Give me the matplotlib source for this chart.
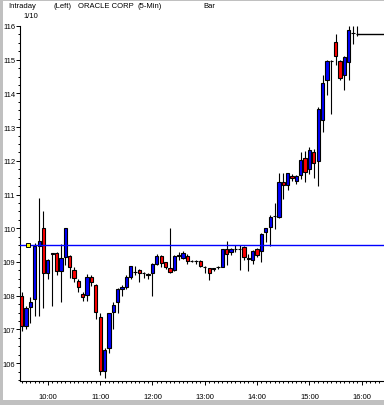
import numpy as np
import matplotlib
matplotlib.use("Agg")
import matplotlib.pyplot as plt
from matplotlib.patches import Rectangle
from matplotlib.ticker import MultipleLocator, FixedLocator

# 5-min bars, 9:30 .. 15:55
opens = [108.0, 107.1, 107.66, 107.9, 109.48, 110.0, 108.66, 109.25, 109.26, 108.74,
         109.14, 109.19, 108.77, 108.43, 108.05, 108.02, 108.55, 108.32, 107.36, 105.76,
         106.44, 107.51, 107.82, 108.2, 108.25, 108.55, 108.7, 108.76, 108.66, 108.62,
         108.66, 108.94, 109.19, 108.99, 108.81, 108.77, 109.19, 109.13, 109.19, 109.04,
         109.03, 109.04, 108.86, 108.81, 108.8, 108.85, 108.86, 109.39, 109.29, 109.39,
         109.39, 109.44, 109.1, 109.07, 109.39, 109.34, 109.9, 110.03, 110.35, 110.34,
         111.38, 111.28, 111.56, 111.41, 111.59, 112.08, 111.75, 112.25, 112.0, 113.2,
         114.39, 114.95, 115.53, 114.95, 114.55, 114.92, 115.8, 115.75]
highs = [108.12, 107.7, 107.95, 109.55, 110.9, 110.5, 109.1, 109.28, 109.3, 109.53,
         110.0, 109.2, 108.85, 108.5, 108.1, 108.64, 108.62, 108.35, 107.5, 106.45,
         107.5, 107.8, 108.22, 108.32, 108.6, 108.88, 108.87, 108.8, 108.7, 108.68,
         108.96, 109.25, 109.22, 109.0, 110.01, 109.22, 109.3, 109.32, 109.25, 109.06,
         109.06, 109.05, 108.88, 108.83, 108.83, 108.88, 109.4, 109.63, 109.42, 109.5,
         109.5, 109.46, 109.24, 109.35, 109.42, 109.85, 110.02, 110.4, 110.75, 111.63,
         111.63, 111.65, 111.6, 111.58, 112.25, 112.3, 112.4, 112.35, 113.6, 114.55,
         115.0, 115.0, 115.75, 115.0, 115.1, 116.0, 116.0, 116.0]
lows = [106.95, 107.0, 107.2, 107.4, 107.4, 107.65, 108.5, 107.7, 108.6, 107.8,
        108.9, 108.52, 108.42, 108.1, 107.85, 107.85, 108.3, 107.31, 105.66, 105.55,
        106.3, 107.0, 107.5, 108.0, 108.2, 108.5, 108.6, 108.42, 108.52, 108.5,
        108.0, 108.9, 108.85, 108.8, 108.68, 108.72, 109.05, 109.1, 108.95, 109.0,
        108.93, 108.85, 108.66, 108.47, 108.72, 108.8, 108.84, 108.9, 109.2, 109.3,
        108.77, 109.05, 108.74, 108.95, 109.15, 109.01, 109.58, 109.48, 109.98, 110.3,
        110.87, 111.14, 111.4, 111.3, 111.45, 111.38, 111.6, 111.5, 111.26, 112.85,
        113.95, 113.4, 114.83, 114.39, 114.1, 114.4, 115.46, 115.7]
closes = [107.1, 107.63, 107.8, 109.47, 109.61, 108.66, 109.06, 109.26, 108.74, 109.11,
          110.0, 108.84, 108.52, 108.25, 107.96, 108.55, 108.4, 107.51, 105.76, 106.39,
          107.48, 107.72, 108.2, 108.27, 108.55, 108.87, 108.69, 108.67, 108.67, 108.63,
          108.94, 109.19, 108.97, 108.84, 108.71, 109.19, 109.2, 109.26, 109.03, 109.03,
          109.04, 108.89, 108.85, 108.66, 108.81, 108.86, 109.39, 109.25, 109.39, 109.39,
          109.39, 109.14, 109.12, 109.32, 109.22, 109.83, 110.0, 110.33, 110.36, 111.38,
          111.28, 111.63, 111.48, 111.56, 112.03, 111.66, 112.32, 111.94, 113.54, 114.3,
          114.95, 114.96, 115.11, 114.47, 115.08, 115.88, 115.78, 115.77]

hour_labels = ["10:00", "11:00", "12:00", "13:00", "14:00", "15:00", "16:00"]
hour_bars = [6, 18, 30, 42, 54, 66, 78]   # bar index of each hour (9:30 = 0)
ref_level = 109.5
ref_marker_bar = 1.45

W, H = 384, 406
fig = plt.figure(figsize=(W / 100, H / 100), dpi=100)
fig.patch.set_facecolor("white")
font = "Liberation Sans"
fs = 5.5

# grey window frame
fig.patches.append(Rectangle((0, 0), 2.5 / W, 1, transform=fig.transFigure,
                             facecolor="#c0c0c0", edgecolor="none"))
fig.patches.append(Rectangle((0, 1 - 1.5 / H), 1, 1.5 / H, transform=fig.transFigure,
                             facecolor="#c0c0c0", edgecolor="none"))
fig.patches.append(Rectangle((0, 0), 1, 5 / H, transform=fig.transFigure,
                             facecolor="#c0c0c0", edgecolor="none"))

ax = fig.add_axes([20 / W, 24 / H, 364 / W, 355 / H])
ax.set_xlim(-0.39, 83.1)
ax.set_ylim(105.47, 116.0)

x = np.arange(len(opens))
o = np.array(opens); c = np.array(closes)
ax.vlines(x, lows, highs, color="black", linewidth=0.8, zorder=2)
up = c >= o
colors = np.where(up, "#0000ff", "#ff0000")
ax.bar(x, np.abs(c - o), bottom=np.minimum(o, c), width=0.75, color=colors,
       edgecolor="black", linewidth=0.8, zorder=3)

ax.axhline(ref_level, color="#0000ff", linewidth=1.0, zorder=4)
ax.add_patch(Rectangle((ref_marker_bar - 0.45, ref_level - 0.05), 0.9, 0.1,
                       facecolor="#ffff00", edgecolor="black", linewidth=0.7, zorder=5))
# last price line
ax.hlines(closes[-1], x[-1], 84, color="black", linewidth=1.0, zorder=4, clip_on=False)

for s in ["top", "right"]:
    ax.spines[s].set_visible(False)
for s in ["left", "bottom"]:
    ax.spines[s].set_linewidth(0.8)

ax.yaxis.set_major_locator(MultipleLocator(1))
ax.yaxis.set_minor_locator(MultipleLocator(0.25))
ax.xaxis.set_major_locator(FixedLocator(hour_bars))
ax.xaxis.set_minor_locator(MultipleLocator(1))
ax.set_xticklabels(hour_labels)
ax.tick_params(axis="both", which="major", length=3, width=0.7, labelsize=fs, pad=0.5)
ax.tick_params(axis="both", which="minor", length=1.6, width=0.7)
ax.tick_params(axis="x", which="major", pad=6)
for lab in ax.get_xticklabels() + ax.get_yticklabels():
    lab.set_fontfamily(font)

def ftext(px, py, s):
    fig.text(px / W, 1 - py / H, s, fontsize=fs, family=font, va="center", ha="left")

ftext(8, 6, "Intraday")
ftext(23, 16, "1/10")
ftext(53, 6, "(Left)")
ftext(78, 6, "ORACLE CORP")
ftext(137, 6, "(5-Min)")
ftext(203, 6, "Bar")

fig.savefig("out.png", dpi=100)
